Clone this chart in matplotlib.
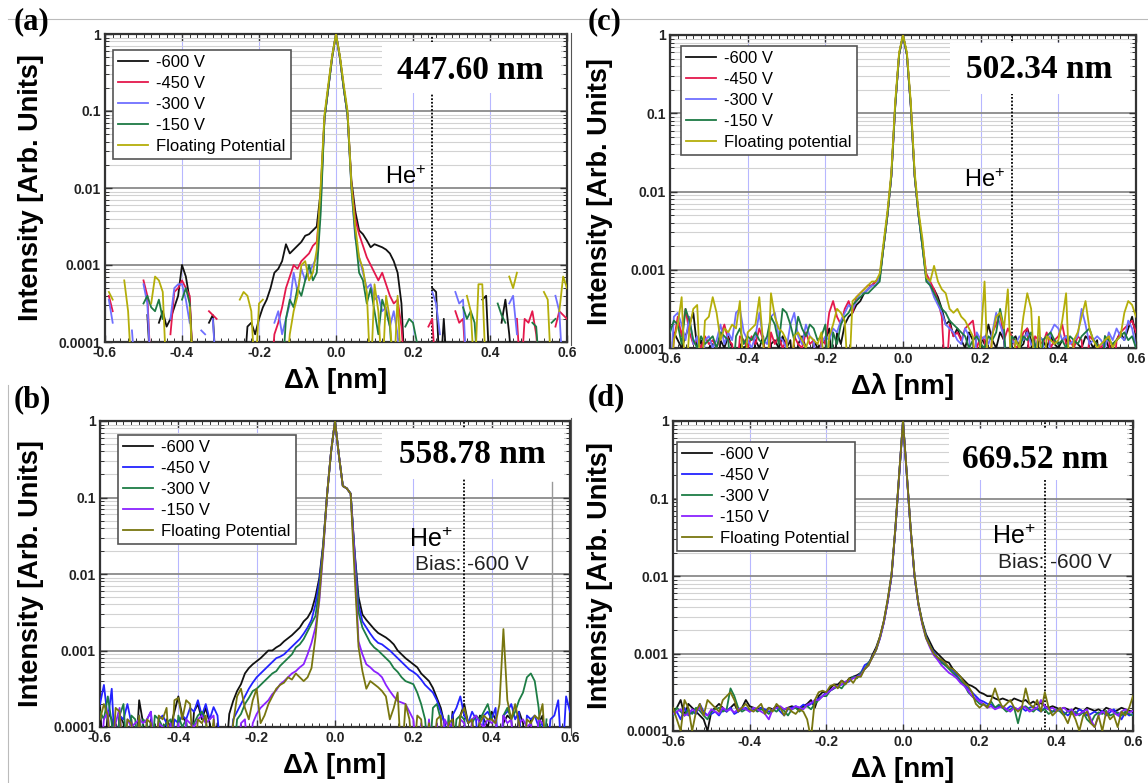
import numpy as np
import matplotlib
matplotlib.use('Agg')
import matplotlib.pyplot as plt
from matplotlib.ticker import MultipleLocator, FixedLocator, FixedFormatter, LogLocator
from matplotlib.patches import Rectangle
from matplotlib.lines import Line2D

plt.rcParams['font.family'] = ['Liberation Sans', 'DejaVu Sans']
plt.rcParams['mathtext.default'] = 'regular'
plt.rcParams['axes.unicode_minus'] = False

N = None  # no valid (non-positive) sample -> gap in the log plot

# wavelength offset grid, nm
dlam = np.linspace(-0.6, 0.6, 121)

# all intensities below are log10(I / I_peak), 0.01 nm steps
# ---------------- (a) 447.60 nm ----------------
A_600 = [N, N, N, N, N, N, N, N, N, N,
         N, -3.65, -4.5, N, -3.75, -3.6, -3.8, -3.7, -3.55, -3.4,
         -3.0, -3.15, -3.45, -4.5, N, N, N, -3.75, -3.65, -4.5,
         N, N, N, N, N, N, -4.5, -3.8, -3.75, -3.9,
         -3.7, -3.55, -3.45, -3.3, -3.1, -3.05, -2.95, -2.73, -2.85, -2.8,
         -2.75, -2.7, -2.62, -2.6, -2.55, -2.5, -2.05, -1.1, -0.7, -0.3,
         0, -0.3, -0.7, -1.05, -1.9, -2.3, -2.55, -2.6, -2.68, -2.77,
         -2.73, -2.75, -2.77, -2.8, -2.85, -2.95, -3.1, -3.5, -4.5, N,
         N, N, N, N, N, -3.3, -3.35, -4.5, -3.7, -4.5,
         N, N, N, N, N, N, N, N, -3.45, -3.4,
         -4.5, N, N, -3.75, -3.45, -3.9, -4.5, N, N, N,
         N, N, N, N, N, N, N, N, N, N,
         N]
A_450 = [N, -3.4, -3.6, N, N, N, N, N, N, N,
         -3.2, -3.4, -4.5, N, N, N, N, -3.9, -3.35, -3.3,
         -3.2, -3.3, -3.4, -4.5, N, N, N, -3.6, -3.65, -3.7,
         N, N, N, N, N, N, N, N, N, N,
         N, N, N, -4.5, -3.9, -3.75, -3.55, -3.3, -3.15, -3.0,
         -3.05, -2.95, -2.9, -2.85, -2.75, -2.7, -2.15, -1.1, -0.7, -0.3,
         0, -0.3, -0.7, -1.05, -1.95, -2.4, -2.6, -2.75, -2.9, -3.0,
         -3.1, -3.2, -3.1, -3.25, -3.4, -3.5, -3.45, -3.8, -4.5, N,
         N, N, N, N, -3.8, -3.7, -4.5, N, N, N,
         N, -3.6, -3.75, -3.7, -4.5, N, N, N, N, N,
         N, N, N, N, N, N, N, -3.7, -4.5, -3.7,
         -3.75, -3.6, -3.9, -4.5, N, N, N, -3.8, -3.6, -3.65,
         -3.7]
A_300 = [N, -3.45, -3.75, N, N, N, N, -3.85, -4.5, N,
         -3.25, -3.5, -4.5, N, N, N, N, -3.7, -3.3, -3.25,
         -3.25, -3.45, -3.75, N, N, -3.85, -3.9, N, -3.7, -4.5,
         N, N, N, N, N, N, N, N, N, N,
         N, N, N, N, -3.75, -3.6, -3.9, -3.7, -3.5, -3.1,
         -3.35, -3.05, -3.2, -3.1, -3.0, -2.9, -2.25, -1.1, -0.7, -0.3,
         0, -0.3, -0.7, -1.05, -2.0, -2.65, -2.9, -3.1, -3.3, -3.25,
         -3.45, -3.4, -3.6, -3.55, -3.8, -3.6, -3.9, -4.5, N, N,
         N, N, N, N, N, -3.35, -3.5, -3.9, N, N,
         N, -3.35, -3.5, -3.45, -4.5, N, N, N, N, N,
         N, N, N, N, N, -3.5, -3.4, -3.9, N, N,
         N, N, N, N, N, N, N, -3.4, -3.6, -4.5,
         N]
A_150 = [N, N, N, N, N, N, N, N, N, N,
         -3.5, -3.4, -3.55, -3.6, -3.45, -3.7, N, N, N, N,
         -3.45, -3.3, -3.5, -4.5, N, N, N, N, N, N,
         N, N, N, N, N, N, N, N, N, N,
         N, N, N, N, N, N, -4.5, -3.7, -3.45, -3.55,
         -3.3, -3.4, -3.2, -3.0, -3.2, -3.1, -2.35, -1.1, -0.7, -0.3,
         0, -0.3, -0.7, -1.05, -2.0, -2.6, -3.1, -3.2, -3.5, -3.3,
         -3.6, -3.9, -3.45, -3.6, -3.8, -4.5, N, N, -3.8, -3.7,
         -3.75, -4.0, N, N, N, N, N, N, N, N,
         N, N, N, -3.55, -3.7, -3.6, -3.75, -4.5, N, N,
         N, N, -3.5, -3.65, -3.75, N, N, N, N, N,
         N, -3.75, -3.8, -4.5, N, N, -3.75, -3.7, N, N,
         N]
A_FP = [N, -3.35, -3.45, N, N, -3.2, -3.6, -4.5, N, N,
        N, N, -3.5, -3.15, -3.2, -3.35, -4.5, N, N, N,
        N, N, -3.55, -4.5, N, N, N, N, N, N,
        N, N, N, N, N, -3.45, -3.35, -3.4, -3.6, -4.5,
        -3.5, -3.45, N, N, N, N, N, -4.5, -3.9, -3.6,
        -3.4, -3.0, -2.95, -3.2, -3.1, -2.8, -2.0, -1.05, -0.65, -0.28,
        0, -0.28, -0.65, -1.0, -1.95, -2.5, -2.9, -3.05, -3.35, -4.5,
        -3.25, -3.6, -4.5, -3.4, -3.7, -4.5, -3.4, -4.5, N, N,
        -3.75, N, N, N, N, N, N, N, N, N,
        N, N, N, N, -3.4, -3.6, -4.5, -3.25, -3.25, -4.5,
        N, N, N, N, N, -3.15, -3.3, -3.1, N, N,
        N, N, N, N, -3.35, -3.45, -4.5, N, -3.6, -3.15,
        -3.3]

# ---------------- (c) 502.34 nm ----------------
C_600 = [-4.5, -3.8, -3.9, -4.0, -3.85, -3.7, -3.55, -4.0, -3.9, -4.5,
         -4.0, -3.95, -4.5, -3.9, -4.0, -3.85, -4.0, -4.5, -3.95, -4.0,
         -3.95, -4.5, -3.9, -4.0, -3.85, -4.5, -3.95, -3.9, -4.0, -3.85,
         -4.0, -3.9, -4.5, -3.95, -3.85, -4.0, -4.5, -3.9, -4.0, -3.95,
         -3.9, -3.75, -4.5, -3.8, -3.95, -3.7, -3.6, -3.55, -3.45, -3.4,
         -3.3, -3.25, -3.2, -3.15, -3.1, -2.7, -2.3, -1.8, -0.9, -0.25,
         0, -0.25, -0.9, -1.8, -2.3, -2.7, -3.1, -3.2, -3.25, -3.35,
         -3.5, -3.7, -3.65, -3.85, -3.75, -3.9, -4.0, -3.8, -3.9, -4.5,
         -3.85, -3.95, -3.7, -3.9, -4.0, -3.8, -3.9, -4.5, -3.9, -3.85,
         -4.0, -3.95, -3.75, -3.9, -4.5, -3.85, -3.9, -4.0, -3.85, -3.95,
         -4.0, -3.9, -3.85, -4.5, -3.9, -3.95, -4.0, -3.85, -3.9, -4.0,
         -3.9, -4.5, -3.85, -4.0, -3.95, -3.9, -3.8, -3.9, -3.75, -3.6,
         -3.85]
C_450 = [-4.5, -3.9, -3.6, -3.85, -3.5, -3.8, -3.95, -3.9, -4.0, -3.85,
         -3.95, -3.9, -4.0, -3.85, -3.7, -3.9, -3.95, -4.5, -3.85, -3.9,
         -4.0, -3.85, -3.95, -3.75, -3.9, -4.5, -3.8, -3.95, -3.85, -4.0,
         -3.9, -4.5, -3.85, -3.95, -4.0, -3.8, -3.95, -3.9, -4.5, -3.85,
         -3.95, -3.55, -3.4, -3.6, -3.7, -3.5, -3.4, -3.55, -3.35, -3.3,
         -3.25, -3.2, -3.2, -3.15, -3.1, -2.7, -2.3, -1.8, -0.9, -0.25,
         0, -0.25, -0.9, -1.8, -2.3, -2.65, -3.05, -3.15, -3.25, -3.4,
         -3.6, -4.5, -3.7, -3.85, -3.8, -3.9, -3.75, -3.7, -3.65, -4.0,
         -3.85, -3.9, -4.5, -3.8, -3.7, -3.55, -3.9, -3.75, -3.85, -4.0,
         -3.95, -3.8, -3.75, -4.5, -3.85, -3.9, -3.95, -3.8, -4.0, -3.9,
         -3.85, -3.7, -3.95, -3.9, -4.0, -3.85, -3.9, -4.5, -3.85, -3.9,
         -3.95, -4.0, -3.9, -3.85, -4.5, -3.9, -3.8, -3.75, -3.7, -3.65,
         -3.8]
C_300 = [-4.5, -3.6, -3.55, -3.7, -3.9, -3.6, -3.95, -3.85, -4.5, -3.9,
         -3.85, -4.0, -3.9, -3.7, -3.95, -3.8, -3.9, -3.55, -3.5, -3.8,
         -3.9, -4.0, -3.85, -3.55, -3.9, -3.95, -3.6, -3.55, -3.85, -3.9,
         -4.0, -3.7, -3.55, -3.85, -3.95, -3.7, -3.85, -3.9, -4.5, -3.95,
         -3.85, -3.9, -3.75, -3.8, -3.65, -3.55, -3.45, -3.5, -3.4, -3.3,
         -3.3, -3.25, -3.2, -3.2, -3.1, -2.7, -2.3, -1.8, -0.9, -0.25,
         0, -0.25, -0.9, -1.8, -2.3, -2.7, -3.1, -3.2, -3.35, -3.45,
         -3.55, -3.7, -3.75, -3.8, -3.9, -3.95, -3.75, -3.85, -4.5, -3.8,
         -3.9, -3.85, -3.95, -3.8, -3.55, -3.7, -3.85, -4.5, -3.9, -3.95,
         -3.85, -3.9, -3.8, -3.95, -4.0, -3.85, -3.9, -4.5, -3.8, -3.7,
         -3.75, -3.9, -3.85, -3.95, -3.9, -3.85, -3.5, -3.7, -3.95, -3.9,
         -3.85, -3.9, -4.0, -3.8, -3.9, -3.75, -3.85, -3.9, -3.65, -3.75,
         -4.0]
C_150 = [-3.8, -3.65, -3.7, -3.95, -3.5, -3.65, -3.9, -4.0, -3.85, -3.95,
         -3.9, -3.85, -4.0, -3.8, -3.85, -3.9, -4.5, -3.85, -3.75, -3.95,
         -3.85, -3.9, -3.8, -3.9, -3.95, -3.85, -3.6, -3.7, -3.95, -3.5,
         -3.55, -3.7, -3.9, -3.6, -3.75, -3.85, -3.7, -3.75, -3.9, -3.85,
         -3.7, -4.5, -3.8, -3.95, -3.7, -3.6, -3.55, -3.45, -3.4, -3.35,
         -3.3, -3.3, -3.25, -3.2, -3.15, -2.7, -2.3, -1.8, -0.9, -0.25,
         0, -0.25, -0.9, -1.8, -2.3, -2.7, -3.15, -3.2, -3.3, -3.4,
         -3.5, -3.55, -3.65, -3.7, -3.75, -3.8, -3.85, -4.0, -3.9, -3.85,
         -3.95, -4.0, -3.85, -3.9, -3.8, -3.5, -3.75, -4.5, -3.85, -3.9,
         -4.0, -3.85, -3.9, -3.8, -3.95, -4.5, -3.9, -3.85, -3.8, -3.9,
         -3.95, -3.9, -4.0, -3.85, -3.9, -3.95, -3.85, -3.8, -3.75, -3.9,
         -3.95, -4.5, -3.85, -3.9, -3.95, -3.9, -3.85, -3.8, -3.9, -3.85,
         -4.0]
C_FP = [-4.5, -3.9, -3.7, -3.35, -4.5, -3.75, -3.5, -3.45, -4.5, -3.65,
        -3.6, -3.35, -3.55, -3.9, -3.75, -3.8, -3.7, -3.75, -3.4, -4.5,
        -3.8, -3.75, -3.7, -3.35, -3.95, -4.5, -3.3, -3.6, -3.75, -3.8,
        -3.9, -4.5, -3.85, -3.8, -3.9, -4.0, -3.85, -3.9, -3.95, -3.8,
        -4.5, -3.85, -3.7, -3.5, -3.55, -3.65, -4.5, -3.4, -3.35, -3.3,
        -3.25, -3.2, -3.15, -3.15, -3.05, -2.65, -2.25, -1.75, -0.85, -0.22,
        0, -0.22, -0.85, -1.75, -2.25, -2.6, -3.1, -3.15, -2.95, -3.15,
        -3.25, -3.3, -3.5, -3.55, -3.5, -3.6, -3.65, -3.75, -3.85, -4.5,
        -3.9, -3.15, -4.5, -3.85, -3.6, -3.55, -3.75, -3.25, -4.5, -3.9,
        -4.0, -3.6, -3.3, -3.5, -4.5, -3.6, -4.5, -3.85, -3.9, -3.95,
        -3.9, -3.65, -3.3, -4.5, -3.9, -3.8, -3.6, -3.4, -3.75, -3.9,
        -4.0, -3.95, -3.9, -3.85, -4.0, -3.9, -3.85, -3.55, -3.4, -3.45,
        -3.6]

# ---------------- (b) 558.78 nm ----------------
B_600 = [-3.75, -4.5, -3.8, -3.9, -4.5, -3.85, -3.95, -4.5, -3.9, -4.5,
         -3.65, -3.95, -4.5, -3.9, -4.5, -3.95, -4.5, -3.9, -4.0, -3.8,
         -3.6, -3.85, -3.95, -4.5, -3.8, -3.7, -3.9, -3.75, -3.95, -4.5,
         -3.95, -4.5, -4.5, -3.83, -3.66, -3.53, -3.44, -3.3, -3.23, -3.18,
         -3.14, -3.1, -3.05, -3.0, -3.0, -2.96, -2.93, -2.88, -2.84, -2.8,
         -2.75, -2.7, -2.62, -2.57, -2.48, -2.3, -2.05, -1.6, -0.95, -0.4,
         0, -0.45, -0.85, -0.88, -0.95, -1.7, -2.3, -2.53, -2.6, -2.66,
         -2.72, -2.77, -2.8, -2.83, -2.87, -2.92, -3.0, -3.05, -3.1, -3.14,
         -3.18, -3.22, -3.3, -3.35, -3.4, -3.49, -3.62, -3.75, -3.97, -4.5,
         -3.8, -4.5, -3.85, -3.7, -3.95, -3.9, -4.5, -3.85, -3.9, -4.0,
         -3.8, -3.9, -4.5, -3.95, -3.85, -3.9, -4.5, -3.8, -3.95, -4.5,
         -3.9, -4.5, -3.95, -3.85, -4.5, N, N, N, N, N,
         N]
B_450 = [-3.7, -3.45, -3.9, -3.5, -4.5, -3.85, -3.9, -3.7, -3.95, -4.5,
         -3.85, -4.5, -3.9, -3.8, -4.5, -3.9, -3.85, -3.95, -4.5, -3.9,
         -3.95, -3.85, -3.9, -3.75, -3.8, -3.65, -3.85, -3.7, -3.9, -3.74,
         -3.85, -4.5, -4.5, -4.5, -3.9, -3.8, -3.7, -3.6, -3.5, -3.42,
         -3.35, -3.3, -3.25, -3.2, -3.15, -3.1, -3.08, -3.05, -3.0, -2.95,
         -2.9, -2.85, -2.78, -2.7, -2.6, -2.4, -2.1, -1.62, -0.95, -0.4,
         0, -0.45, -0.85, -0.88, -0.95, -1.72, -2.4, -2.62, -2.7, -2.78,
         -2.85, -2.9, -2.92, -2.96, -3.0, -3.05, -3.1, -3.15, -3.2, -3.25,
         -3.28, -3.32, -3.38, -3.45, -3.5, -3.55, -3.65, -3.8, -3.95, -4.5,
         -3.85, -3.75, -3.6, -3.85, -3.95, -3.8, -3.9, -4.5, -3.85, -3.8,
         -3.9, -3.75, -4.5, -3.85, -3.8, -3.7, -3.9, -3.8, -4.5, -3.85,
         -3.9, -3.85, -4.0, -3.95, -4.5, -3.9, -3.85, -3.65, -4.5, -3.6,
         -3.8]
B_300 = [-3.8, -3.9, -3.6, -3.95, -4.5, -3.85, -3.7, -4.5, -3.85, -3.9,
         -4.5, -3.9, -3.95, -4.5, -3.85, -3.9, -4.0, -3.95, -3.9, -4.5,
         -3.85, -4.0, -3.9, -4.5, -3.95, -3.85, -3.8, -3.9, -4.5, -3.95,
         -4.5, -4.5, -4.5, -4.5, -4.5, -3.9, -3.83, -3.7, -3.62, -3.53,
         -3.5, -3.45, -3.4, -3.35, -3.3, -3.27, -3.2, -3.15, -3.1, -3.05,
         -2.96, -2.92, -2.85, -2.75, -2.65, -2.55, -2.2, -1.65, -0.95, -0.4,
         0, -0.45, -0.85, -0.88, -0.95, -1.75, -2.5, -2.7, -2.8, -2.9,
         -2.96, -3.0, -3.05, -3.1, -3.15, -3.23, -3.28, -3.35, -3.4, -3.42,
         -3.44, -3.55, -3.7, -3.9, -4.5, -3.75, -3.7, -3.9, -4.5, -3.85,
         -4.5, -3.9, -3.85, -3.9, -4.5, -3.95, -3.85, -3.9, -3.8, -3.7,
         -3.9, -3.95, -4.5, -3.85, -3.75, -3.9, -3.8, -3.65, -3.55, -3.35,
         -3.3, -3.4, -3.75, -4.5, -3.9, N, N, N, N, N,
         N]
B_150 = [-4.5, -3.9, -3.8, -4.5, -3.95, -3.75, -4.5, -3.9, -4.0, -3.95,
         -3.9, -3.95, -3.9, -3.8, -4.5, -3.95, -4.0, -4.5, -3.95, -4.5,
         -3.95, -4.5, -3.9, -3.95, -4.0, -3.9, -3.85, -3.95, -3.9, -3.85,
         -4.5, -4.5, -4.5, -4.5, -4.5, -4.5, -3.95, -3.9, -4.5, -3.95,
         -3.83, -3.75, -3.7, -3.65, -3.57, -3.52, -3.44, -3.4, -3.35, -3.3,
         -3.27, -3.22, -3.18, -3.05, -2.9, -2.7, -2.35, -1.7, -0.95, -0.4,
         0, -0.45, -0.85, -0.88, -0.95, -1.8, -2.88, -3.05, -3.18, -3.22,
         -3.27, -3.3, -3.35, -3.45, -3.53, -3.6, -3.66, -3.68, -3.7, -3.8,
         -3.9, -4.5, -3.95, -4.5, -3.9, -4.5, -3.95, -4.5, -3.9, -4.0,
         -3.95, -4.5, -3.9, -3.95, -4.5, -3.9, -3.85, -3.95, -4.0, -3.9,
         -3.95, -3.9, -4.5, -3.85, -3.95, -3.9, -4.5, -3.95, -3.9, -4.0,
         -3.95, -4.5, -3.9, -3.95, N, N, N, N, N, N,
         N]
B_FP = [-3.9, -3.7, -3.85, -4.5, -3.75, -3.8, -4.5, -3.9, -3.95, -4.5,
        -3.85, -4.5, -3.9, -3.95, -4.5, -3.85, -3.9, -3.75, -4.5, -3.65,
        -3.62, -3.9, -3.65, -3.7, -4.5, -3.9, -3.95, -3.85, -4.5, -3.9,
        -4.5, -4.5, -4.5, -4.5, -3.95, -3.6, -3.5, -3.75, -3.9, -3.65,
        -3.5, -3.95, -3.85, -3.7, -3.6, -3.5, -3.45, -3.42, -3.35, -3.38,
        -3.3, -3.35, -3.4, -3.35, -3.23, -2.83, -2.3, -1.65, -0.95, -0.4,
        0, -0.45, -0.85, -0.88, -0.95, -2.0, -2.95, -3.27, -3.5, -3.4,
        -3.44, -3.48, -3.53, -3.6, -3.9, -3.75, -3.55, -4.5, -3.7, -3.9,
        -4.5, -3.85, -3.9, -4.5, -3.95, -4.5, -3.9, -3.85, -4.5, -3.95,
        -3.9, -4.5, -3.85, -3.75, -3.95, -3.9, -4.5, -3.95, -3.85, -3.9,
        -3.9, -3.95, -3.7, -2.72, -3.65, -3.9, -3.7, -3.95, -4.5, -3.9,
        -3.95, -3.85, -3.9, -3.7, -4.5, N, N, N, N, N,
        N]

# ---------------- (d) 669.52 nm ----------------
D_600 = [-3.75, -3.7, -3.6, -3.8, -3.65, -3.7, -3.75, -3.8, -3.85, -4.0,
         -3.75, -3.7, -3.65, -3.7, -3.75, -3.7, -3.65, -3.75, -3.7, -3.6,
         -3.68, -3.7, -3.72, -3.7, -3.75, -3.7, -3.72, -3.68, -3.7, -3.72,
         -3.7, -3.68, -3.7, -3.72, -3.68, -3.65, -3.6, -3.7, -3.55, -3.5,
         -3.5, -3.45, -3.4, -3.4, -3.35, -3.38, -3.32, -3.3, -3.28, -3.25,
         -3.2, -3.15, -3.02, -2.92, -2.78, -2.58, -2.32, -2.0, -1.4, -0.7,
         0, -0.7, -1.4, -2.0, -2.35, -2.58, -2.75, -2.85, -2.95, -3.0,
         -3.05, -3.1, -3.12, -3.2, -3.25, -3.3, -3.35, -3.4, -3.42, -3.45,
         -3.5, -3.52, -3.55, -3.55, -3.58, -3.6, -3.58, -3.6, -3.62, -3.58,
         -3.6, -3.62, -3.6, -3.65, -3.62, -3.66, -3.64, -3.68, -3.7, -3.68,
         -3.7, -3.72, -3.7, -3.72, -3.75, -3.7, -3.72, -3.75, -3.7, -3.72,
         -3.74, -3.72, -3.75, -3.7, -3.72, -3.75, -3.73, -3.7, -3.72, -3.74,
         -3.75]
D_450 = [-3.8, -3.75, -3.85, -3.7, -3.8, -3.75, -3.78, -3.65, -3.75, -3.8,
         -3.78, -3.75, -3.8, -3.72, -3.75, -3.7, -3.78, -3.75, -3.72, -3.7,
         -3.75, -3.72, -3.74, -3.7, -3.72, -3.75, -3.73, -3.7, -3.75, -3.8,
         -3.72, -3.7, -3.68, -3.7, -3.66, -3.68, -3.65, -3.62, -3.58, -3.55,
         -3.5, -3.48, -3.45, -3.42, -3.4, -3.38, -3.36, -3.3, -3.3, -3.25,
         -3.15, -3.12, -3.05, -2.95, -2.8, -2.6, -2.33, -2.0, -1.4, -0.7,
         0, -0.7, -1.4, -2.0, -2.36, -2.6, -2.78, -2.9, -2.98, -3.05,
         -3.1, -3.15, -3.18, -3.22, -3.28, -3.35, -3.4, -3.45, -3.5, -3.55,
         -3.6, -3.62, -3.65, -3.66, -3.7, -3.68, -3.7, -3.72, -3.68, -3.7,
         -3.72, -3.7, -3.74, -3.7, -3.68, -3.72, -3.75, -3.7, -3.72, -3.75,
         -3.74, -3.72, -3.76, -3.8, -3.75, -3.78, -3.72, -3.75, -3.8, -3.78,
         -3.75, -3.78, -3.74, -3.8, -3.76, -3.72, -3.78, -3.85, -3.76, -3.8,
         -3.78]
D_300 = [-3.8, -3.7, -3.75, -3.8, -3.72, -3.78, -3.7, -3.74, -3.8, -3.85,
         -3.75, -3.72, -3.7, -3.75, -3.72, -3.45, -3.55, -3.7, -3.75, -3.72,
         -3.73, -3.7, -3.75, -3.72, -3.74, -3.78, -3.72, -3.75, -3.7, -3.74,
         -3.8, -3.72, -3.7, -3.75, -3.7, -3.68, -3.72, -3.65, -3.6, -3.55,
         -3.55, -3.48, -3.45, -3.42, -3.45, -3.38, -3.35, -3.3, -3.32, -3.25,
         -3.2, -3.12, -3.05, -2.95, -2.8, -2.6, -2.33, -2.0, -1.4, -0.7,
         0, -0.7, -1.4, -2.0, -2.36, -2.6, -2.78, -2.9, -3.0, -3.05,
         -3.12, -3.15, -3.2, -3.25, -3.3, -3.35, -3.4, -3.5, -3.55, -3.6,
         -3.65, -3.66, -3.68, -3.62, -3.7, -3.66, -3.7, -3.75, -3.72, -3.7,
         -3.9, -3.7, -3.68, -3.72, -3.75, -3.7, -3.74, -3.72, -3.78, -3.75,
         -3.72, -3.75, -3.8, -3.74, -3.78, -3.75, -3.8, -3.76, -3.85, -3.9,
         -3.8, -3.76, -3.78, -3.74, -3.8, -3.78, -3.76, -3.8, -3.75, -3.78,
         -3.8]
D_150 = [-3.78, -3.75, -3.72, -3.8, -3.78, -3.72, -3.75, -3.7, -3.78, -3.8,
         -3.72, -3.75, -3.78, -3.7, -3.74, -3.72, -3.76, -3.72, -3.7, -3.72,
         -3.75, -3.7, -3.72, -3.75, -3.78, -3.85, -3.72, -3.7, -3.68, -3.72,
         -3.7, -3.72, -3.68, -3.7, -3.72, -3.66, -3.64, -3.6, -3.6, -3.55,
         -3.52, -3.48, -3.44, -3.42, -3.4, -3.36, -3.35, -3.32, -3.3, -3.28,
         -3.2, -3.15, -3.05, -2.95, -2.8, -2.6, -2.33, -2.0, -1.4, -0.7,
         0, -0.7, -1.4, -2.0, -2.36, -2.62, -2.8, -2.92, -3.02, -3.08,
         -3.15, -3.2, -3.25, -3.28, -3.32, -3.38, -3.42, -3.48, -3.55, -3.58,
         -3.62, -3.65, -3.7, -3.68, -3.72, -3.7, -3.68, -3.72, -3.75, -3.7,
         -3.72, -3.68, -3.7, -3.75, -3.72, -3.7, -3.6, -3.68, -3.72, -3.7,
         -3.74, -3.72, -3.7, -3.75, -3.72, -3.8, -3.78, -3.75, -3.72, -3.85,
         -3.95, -3.8, -3.75, -3.78, -3.72, -3.76, -3.8, -3.75, -3.72, -3.76,
         -3.74]
D_FP = [-3.7, -3.85, -4.0, -3.6, -3.7, -4.0, -3.75, -3.65, -3.8, -3.6,
        -3.65, -3.7, -3.75, -3.6, -3.55, -3.5, -3.6, -3.75, -3.7, -3.65,
        -3.72, -3.75, -3.7, -3.65, -3.78, -3.7, -3.75, -3.65, -3.7, -3.8,
        -3.7, -3.75, -3.78, -3.72, -3.75, -3.85, -4.1, -3.6, -3.5, -3.48,
        -3.5, -3.42, -3.4, -3.45, -3.35, -3.4, -3.32, -3.38, -3.3, -3.3,
        -3.2, -3.15, -3.05, -2.95, -2.78, -2.58, -2.3, -1.98, -1.38, -0.68,
        0, -0.68, -1.38, -1.98, -2.35, -2.6, -2.8, -2.9, -3.0, -3.05,
        -3.08, -3.12, -3.18, -3.2, -3.25, -3.3, -3.38, -3.42, -3.5, -3.65,
        -3.7, -3.65, -3.7, -3.6, -3.45, -3.6, -3.7, -3.65, -3.6, -3.7,
        -3.75, -3.7, -3.45, -3.65, -3.7, -3.6, -3.75, -3.5, -3.7, -3.8,
        -3.75, -3.7, -3.8, -3.9, -3.75, -3.85, -4.0, -3.8, -3.75, -3.9,
        -3.95, -3.8, -4.0, -3.75, -3.85, -3.8, -3.95, -3.75, -3.8, -3.7,
        -3.55]

LABELS_AB = ['-600 V', '-450 V', '-300 V', '-150 V', 'Floating Potential']
LABELS_C = ['-600 V', '-450 V', '-300 V', '-150 V', 'Floating potential']
COLORS_AC = ['#111111', '#e4184c', '#6f6fff', '#1d7a44', '#b4ae0a']
COLORS_BD = ['#111111', '#2323ff', '#1d7d45', '#8a22ff', '#78760f']

W, H = 1148, 783
fig = plt.figure(figsize=(W / 100, H / 100), dpi=100)


def px_axes(l, t, r, b):
    return fig.add_axes([l / W, 1 - b / H, (r - l) / W, (b - t) / H])


panels = [
    dict(box=(105, 34, 567, 342), tag='(a)', tagxy=(14, 22), series=[A_600, A_450, A_300, A_150, A_FP],
         colors=COLORS_AC, labels=LABELS_AB, name='447.60 nm', namexy=(0.35, -0.47), he=0.25,
         hexy=(0.18, -1.86), bias=None, ylab=44, leg=(113, 50)),
    dict(box=(670, 35, 1136, 348), tag='(c)', tagxy=(588, 22), series=[C_600, C_450, C_300, C_150, C_FP],
         colors=COLORS_AC, labels=LABELS_C, name='502.34 nm', namexy=(0.35, -0.44), he=0.28,
         hexy=(0.21, -1.86), bias=None, ylab=613, leg=(681, 46)),
    dict(box=(100, 421, 570, 727), tag='(b)', tagxy=(14, 400), series=[B_600, B_450, B_300, B_150, B_FP],
         colors=COLORS_BD, labels=LABELS_AB, name='558.78 nm', namexy=(0.35, -0.44), he=0.33,
         hexy=(0.245, -1.55), bias=(0.35, -1.87), ylab=44, leg=(118, 435)),
    dict(box=(673, 421, 1133, 731), tag='(d)', tagxy=(588, 398), series=[D_600, D_450, D_300, D_150, D_FP],
         colors=COLORS_BD, labels=LABELS_AB, name='669.52 nm', namexy=(0.345, -0.5), he=0.37,
         hexy=(0.29, -1.5), bias=(0.395, -1.83), ylab=613, leg=(677, 442)),
]

for p in panels:
    l, t, r, b = p['box']
    ax = px_axes(l, t, r, b)
    for vals, c, lab in zip(p['series'], p['colors'], p['labels']):
        ax.plot(dlam, 10 ** np.array(vals, dtype=float), color=c, lw=1.3, label=lab, zorder=3)

    ax.set_yscale('log')
    ax.set_xlim(-0.6, 0.6)
    ax.set_ylim(1e-4, 1)
    ax.set_axisbelow(True)
    ax.xaxis.set_major_locator(MultipleLocator(0.2))
    ax.xaxis.set_minor_locator(MultipleLocator(0.02))
    ax.xaxis.set_major_formatter(plt.FuncFormatter(lambda v, pos: '%.1f' % v))
    ax.yaxis.set_major_locator(FixedLocator([1e-4, 1e-3, 1e-2, 1e-1, 1]))
    ax.yaxis.set_major_formatter(FixedFormatter(['0.0001', '0.001', '0.01', '0.1', '1']))
    ax.yaxis.set_minor_locator(LogLocator(base=10, subs=np.arange(2, 10)))
    ax.tick_params(which='both', direction='in', top=True, right=True, color='#333333')
    ax.tick_params(which='major', length=5, width=1.0, labelsize=10, pad=3)
    ax.tick_params(which='minor', length=3, width=0.7)
    for tl in ax.get_xticklabels() + ax.get_yticklabels():
        tl.set_fontweight('bold')
        tl.set_color('#222222')
    for sp in ax.spines.values():
        sp.set_linewidth(1.6)
        sp.set_color('#333333')

    ax.grid(which='major', axis='y', color='#8a8a8a', lw=1.3)
    ax.grid(which='minor', axis='y', color='#d2d2d2', lw=0.8)
    ax.grid(which='major', axis='x', color='#b7b7ff', lw=0.8)

    # He+ marker line
    ax.axvline(p['he'], color='black', lw=1.3, ls=(0, (1, 1)), zorder=1.2)
    if p['tag'] == '(b)':
        ax.axvline(0.555, ymax=0.8, color='#999999', lw=1.0, zorder=1.1)

    # white box behind the wavelength label
    ax.add_patch(Rectangle((0.6, 0.81), 0.387, 0.165, transform=ax.transAxes,
                           facecolor='white', edgecolor='none', zorder=1.5))
    ax.text(p['namexy'][0], 10 ** p['namexy'][1], p['name'], ha='center', va='center',
            family=['Liberation Serif', 'DejaVu Serif'], fontweight='bold', fontsize=24, zorder=4)
    hesize = 17 if p['bias'] is None else 18
    ax.text(p['hexy'][0], 10 ** p['hexy'][1], r'He$^{+}$', ha='center', va='center',
            fontsize=hesize, zorder=4)
    if p['bias'] is not None:
        ax.text(p['bias'][0], 10 ** p['bias'][1], 'Bias: -600 V', ha='center', va='center',
                fontsize=15, color='#222222', zorder=4)

    lx, ly = p['leg']
    leg = ax.legend(loc='upper left', bbox_to_anchor=((lx - l) / (r - l), (b - ly) / (b - t)),
                    borderaxespad=0, fontsize=12, frameon=True, fancybox=False, framealpha=1,
                    edgecolor='#555555', handlelength=1.8, handletextpad=0.5, labelspacing=0.36,
                    borderpad=0.3)
    leg.get_frame().set_linewidth(1.2)
    leg.set_zorder(5)

    ax.set_xlabel('Δλ [nm]', fontsize=20, fontweight='bold', labelpad=5)
    ax.set_ylabel('Intensity [Arb. Units]', fontsize=19.5, fontweight='bold')
    ax.yaxis.set_label_coords((p['ylab'] - l) / (r - l), 0.5)

    fig.text(p['tagxy'][0] / W, 1 - p['tagxy'][1] / H, p['tag'], ha='left', va='center',
             family=['Liberation Serif', 'DejaVu Serif'], fontweight='bold', fontsize=22)

# thin page borders seen in the source
fig.add_artist(Line2D([8 / W, 1], [1 - 19 / H] * 2, color='#bbbbbb', lw=0.8))
fig.add_artist(Line2D([8 / W] * 2, [0, 1 - 385 / H], color='#bbbbbb', lw=0.8))
fig.add_artist(Line2D([571 / W] * 2, [1 - 345 / H, 1 - 33 / H], color='#555555', lw=0.8))
fig.add_artist(Line2D([571 / W] * 2, [1 - 735 / H, 1 - 418 / H], color='#555555', lw=0.8))

fig.savefig('out.png', dpi=100)
